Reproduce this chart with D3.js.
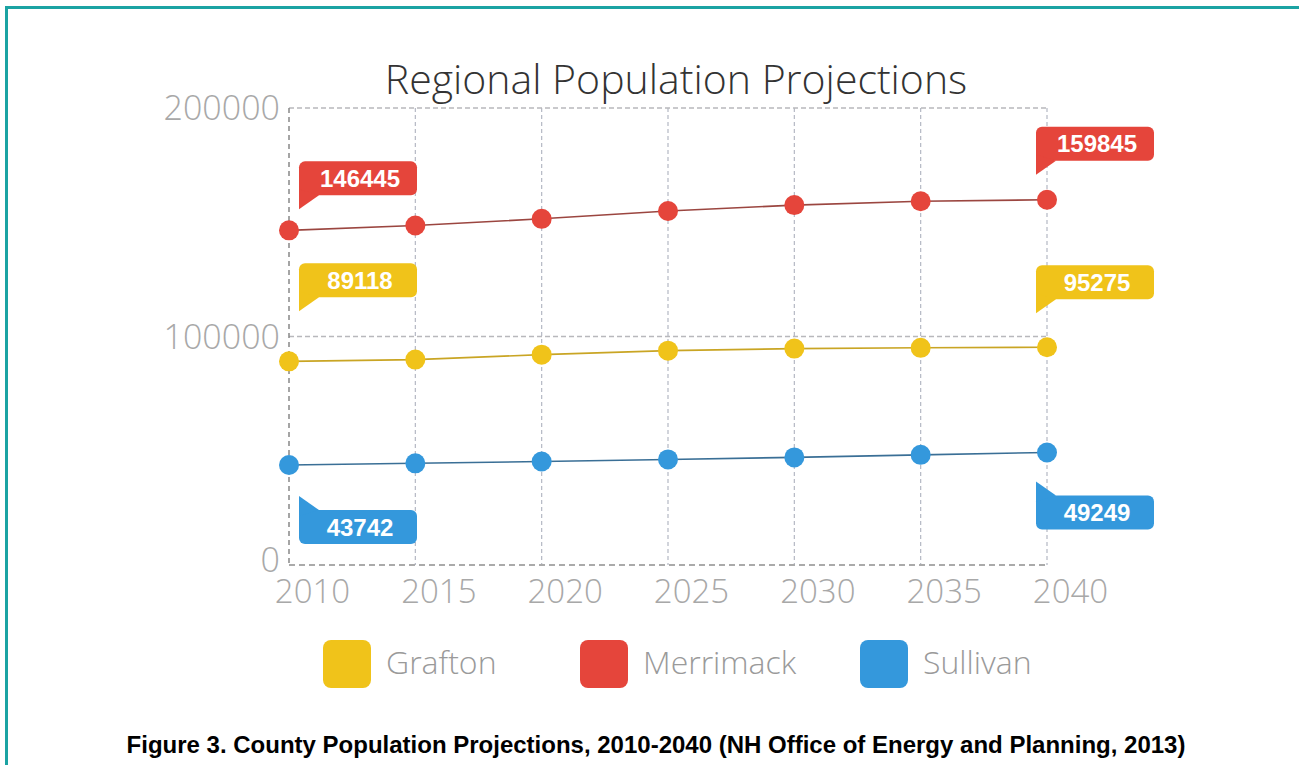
<!DOCTYPE html>
<html>
<head>
<meta charset="utf-8">
<script src="https://cdn.jsdelivr.net/npm/d3@7"></script>
<style>
  html, body { margin: 0; padding: 0; background: #ffffff; }
  svg { display: block; }
</style>
</head>
<body>
<div id="chart"></div>
<script>
// Data
const years = [2010, 2015, 2020, 2025, 2030, 2035, 2040];
const seriesNames = ['Grafton', 'Merrimack', 'Sullivan'];
const grafton   = [89118, 89900, 92050, 93800, 94700, 95050, 95275];
const merrimack = [146445, 148600, 151500, 154900, 157500, 159200, 159845];
const sullivan  = [43742, 44500, 45300, 46200, 47100, 48200, 49249];
const yTicks = [0, 100000, 200000];
const titleText = 'Regional Population Projections';
const captionText = 'Figure 3. County Population Projections, 2010-2040 (NH Office of Energy and Planning, 2013)';

const W = 1299, H = 765;
const colors = { Grafton: '#f0c31a', Merrimack: '#e5453b', Sullivan: '#3498dc' };
const lineColors = { Grafton: '#c9a524', Merrimack: '#9b4640', Sullivan: '#3a6f96' };

const series = [
  { name: 'Grafton',   values: grafton },
  { name: 'Merrimack', values: merrimack },
  { name: 'Sullivan',  values: sullivan }
];

// first/last value callouts; dy = box top relative to point
const callouts = [
  { name: 'Merrimack', i: 0, dy: -69 }, { name: 'Merrimack', i: 6, dy: -73 },
  { name: 'Grafton',   i: 0, dy: -98 }, { name: 'Grafton',   i: 6, dy: -82 },
  { name: 'Sullivan',  i: 0, dy: 45 },  { name: 'Sullivan',  i: 6, dy: 43 }
];

const svg = d3.select('#chart').append('svg')
  .attr('width', W).attr('height', H);

svg.append('rect').attr('width', W).attr('height', H).attr('fill', '#fff');

// teal frame (top and left visible)
svg.append('path')
  .attr('d', `M6.5,${H} V7.5 H${W}`)
  .attr('fill', 'none')
  .attr('stroke', '#1ba3a3')
  .attr('stroke-width', 3);

const x = d3.scaleLinear().domain([2010, 2040]).range([289, 1047]);
const y = d3.scaleLinear().domain([0, 200000]).range([565, 108]);

// title
svg.append('text')
  .attr('x', 676).attr('y', 94)
  .attr('text-anchor', 'middle')
  .attr('font-family', '"Open Sans", sans-serif')
  .attr('font-weight', 300)
  .attr('font-size', 41)
  .attr('fill', '#333')
  .text(titleText);

// grid
const grid = svg.append('g');
grid.selectAll('line.v')
  .data(years.slice(1))
  .join('line')
  .attr('x1', d => x(d)).attr('x2', d => x(d))
  .attr('y1', y(200000)).attr('y2', y(0))
  .attr('stroke', '#b4b8c4')
  .attr('stroke-width', 1.2)
  .attr('stroke-dasharray', '4,3');
grid.selectAll('line.h')
  .data(yTicks.slice(1))
  .join('line')
  .attr('x1', x(2010)).attr('x2', x(2040))
  .attr('y1', d => y(d)).attr('y2', d => y(d))
  .attr('stroke', '#b8b8bc')
  .attr('stroke-width', 1.5)
  .attr('stroke-dasharray', '5,3');
// axis lines
grid.append('line')
  .attr('x1', x(2010)).attr('x2', x(2010))
  .attr('y1', y(200000)).attr('y2', y(0))
  .attr('stroke', '#888')
  .attr('stroke-width', 1.5)
  .attr('stroke-dasharray', '5,4');
grid.append('line')
  .attr('x1', x(2010)).attr('x2', x(2040))
  .attr('y1', y(0)).attr('y2', y(0))
  .attr('stroke', '#aaa')
  .attr('stroke-width', 2)
  .attr('stroke-dasharray', '6,4');

// y axis labels
const yAxis = svg.append('g')
  .attr('transform', `translate(${x(2010) - 9},0)`)
  .call(d3.axisLeft(y).tickValues(yTicks).tickSize(0).tickPadding(0).tickFormat(d3.format('d')));
yAxis.select('.domain').remove();
yAxis.selectAll('text')
  .attr('font-family', '"Open Sans", sans-serif')
  .attr('font-weight', 300)
  .attr('font-size', 34)
  .attr('fill', '#a8a8a8')
  .attr('dy', d => d === 0 ? '0.2em' : '0.35em');

// x axis labels
const xAxis = svg.append('g')
  .attr('transform', `translate(23,${y(0) + 10})`)
  .call(d3.axisBottom(x).tickValues(years).tickSize(0).tickPadding(0).tickFormat(d3.format('d')));
xAxis.select('.domain').remove();
xAxis.selectAll('text')
  .attr('font-family', '"Open Sans", sans-serif')
  .attr('font-weight', 300)
  .attr('font-size', 33)
  .attr('fill', '#a8a8a8')
  .attr('dy', 28);

// lines
const line = d3.line().x((d, i) => x(years[i])).y(d => y(d));
svg.append('g').selectAll('path')
  .data(series)
  .join('path')
  .attr('d', d => line(d.values))
  .attr('fill', 'none')
  .attr('stroke', d => lineColors[d.name])
  .attr('stroke-width', 1.6);

// points
series.forEach(s => {
  svg.append('g').selectAll('circle')
    .data(s.values)
    .join('circle')
    .attr('cx', (d, i) => x(years[i]))
    .attr('cy', d => y(d))
    .attr('r', 10)
    .attr('fill', colors[s.name]);
});

// callouts
const boxW = 118, boxH = 34, tail = 14;
callouts.forEach(c => {
  const s = series.find(d => d.name === c.name);
  const v = s.values[c.i];
  const px = x(years[c.i]), py = y(v);
  const bx = c.i === 0 ? px + 10 : px - 11;
  const by = py + c.dy;
  const g = svg.append('g');
  g.append('rect')
    .attr('x', bx).attr('y', by)
    .attr('width', boxW).attr('height', boxH)
    .attr('rx', 6)
    .attr('fill', colors[c.name]);
  if (c.dy < 0) {
    g.append('path')
      .attr('d', `M${bx},${by + boxH - 6} L${bx},${by + boxH + tail} L${bx + 20},${by + boxH} Z`)
      .attr('fill', colors[c.name]);
  } else {
    g.append('path')
      .attr('d', `M${bx},${by + 6} L${bx},${by - tail} L${bx + 20},${by} Z`)
      .attr('fill', colors[c.name]);
  }
  g.append('text')
    .attr('x', bx + boxW / 2 + 2).attr('y', by + boxH / 2)
    .attr('dy', '0.36em')
    .attr('text-anchor', 'middle')
    .attr('font-family', '"Liberation Sans", Arial, sans-serif')
    .attr('font-weight', 'bold')
    .attr('font-size', 24)
    .attr('fill', '#ffffff')
    .text(d3.format('d')(v));
});

// legend
const legendX = [323, 580, 860];
const legend = svg.append('g');
seriesNames.forEach((n, i) => {
  legend.append('rect')
    .attr('x', legendX[i]).attr('y', 640)
    .attr('width', 48).attr('height', 48)
    .attr('rx', 8)
    .attr('fill', colors[n]);
  legend.append('text')
    .attr('x', legendX[i] + 63).attr('y', 663)
    .attr('dy', '0.35em')
    .attr('font-family', '"Open Sans", sans-serif')
    .attr('font-weight', 300)
    .attr('font-size', 32)
    .attr('fill', '#9a9a9a')
    .text(n);
});

// caption
svg.append('text')
  .attr('x', 656).attr('y', 753)
  .attr('text-anchor', 'middle')
  .attr('font-family', '"Liberation Sans", Arial, sans-serif')
  .attr('font-weight', 'bold')
  .attr('font-size', 24)
  .attr('fill', '#000')
  .text(captionText);
</script>
</body>
</html>
